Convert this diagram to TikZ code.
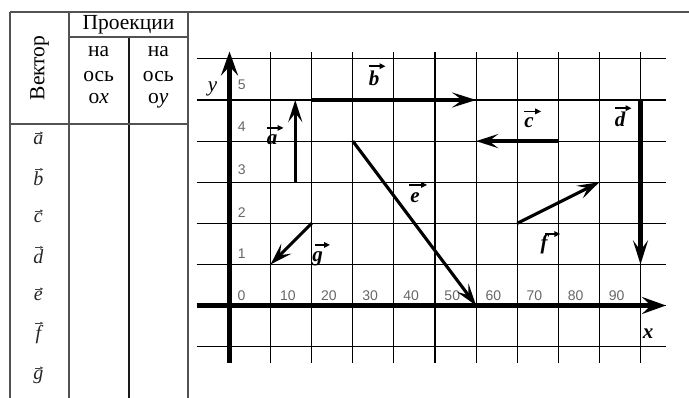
\documentclass[tikz,border=0pt]{standalone}
\usepackage{fontspec}
\setmainfont{Liberation Serif}
\newfontfamily\seriffont{Liberation Serif}
\newfontfamily\numfont{Liberation Sans}
\usetikzlibrary{arrows.meta}
\begin{document}
\begin{tikzpicture}[x=1pt,y=-1pt,
  tline/.style={draw=black!68,line width=2pt},
  gridl/.style={line width=1.1pt},
  axisl/.style={line width=4.5pt,-{Stealth[length=24pt,width=17pt,inset=9pt]}},
  vecthin/.style={line width=3.1pt,-{Stealth[length=22pt,width=14pt,inset=9pt]}},
  vecthick/.style={line width=4.8pt,-{Stealth[length=24pt,width=15pt,inset=10pt]}},
  num/.style={font=\numfont\fontsize{14}{14}\selectfont,text=black!60,inner sep=0pt},
  hdr/.style={font=\seriffont\fontsize{21.5}{21.5}\selectfont,inner sep=0pt},
  hdrl/.style={font=\seriffont\fontsize{21.5}{21.5}\selectfont,inner sep=0pt,anchor=base},
  glab/.style={font=\seriffont\fontsize{21}{21}\selectfont\bfseries\itshape,inner sep=0pt,anchor=base},
  larr/.style={line width=1.5pt,-{Triangle[length=6pt,width=5.5pt]}},
  tlab/.style={font=\seriffont\fontsize{20}{20}\selectfont\itshape,text=black!85,inner sep=0pt,anchor=base},
  sarr/.style={line width=0.6pt,draw=black!75,-{Triangle[length=3pt,width=2.6pt]}}
]
\useasboundingbox (0,0) rectangle (689,398);
% ---------- table ----------
\coordinate (t1) at (10,11.7);
\coordinate (t2) at (689,11.7);
\draw[tline] (t1) -- (t2);
\draw[tline] (10,11.7) -- (10,398);
\draw[tline] (69,11.7) -- (69,398);
\draw[tline,draw=black!90] (128.5,37.3) -- (128.5,398);
\draw[tline] (188.3,11.7) -- (188.3,398);
\draw[tline] (69,37.3) -- (188.3,37.3);
\draw[tline] (10,124) -- (188.3,124);
\node[hdr,rotate=90] (vek) at (39.5,68) {Вектор};
\node[hdr] (proj) at (128.5,24.5) {Проекции};
\node[hdrl] (h11) at (98.7,56.7) {на};
\node[hdrl] (h12) at (98.7,81.2) {ось};
\node[hdrl] (h13) at (98.7,103.5) {о\textit{x}};
\node[hdrl] (h21) at (158.3,56.7) {на};
\node[hdrl] (h22) at (158.3,81.2) {ось};
\node[hdrl] (h23) at (158.3,103.5) {о\textit{y}};
\foreach \n/\l/\yy in {ta/a/145,tb/b/186,tc/c/223,td/d/264,te/e/301,tf/f/340,tg/g/380}{
  \node[tlab] (\n) at (38.3,\yy) {\l};
  \draw[sarr] ([xshift=-3pt,yshift=2.5pt]\n.north) -- ([xshift=5pt,yshift=2.5pt]\n.north);
}
% ---------- grid ----------
\begin{scope}[shift={(229.5,305.5)},x=41.1pt,y=41.1pt]
  \foreach \j in {-1,...,6}{
    \draw[gridl] (-0.8,\j) -- (10.62,\j);
  }
  \foreach \i in {1,...,10}{
    \draw[gridl] (\i,-1.39) -- (\i,6.17);
  }
  \coordinate (xs) at (-0.8,0);
  \coordinate (xe) at (10.62,0);
  \coordinate (ys) at (0,-1.39);
  \coordinate (ye) at (0,6.18);
  \draw[axisl] (xs) -- (xe);
  \draw[axisl] (ys) -- (ye);
  % numbers
  \node[num] (n0) at (0.29,0.25) {0};
  \foreach \k in {1,...,9}{
    \node[num] (nx\k) at (\k+0.42,0.25) {\k0};
  }
  \foreach \k/\jj in {1/1.25,2/2.27,3/3.30,4/4.35,5/5.37}{
    \node[num] (ny\k) at (0.3,\jj) {\k};
  }
  % vectors
  \coordinate (a1) at (1.6,3);  \coordinate (a2) at (1.6,5);
  \coordinate (b1) at (2,5);    \coordinate (b2) at (6,5);
  \coordinate (c1) at (8,4);    \coordinate (c2) at (6,4);
  \coordinate (d1) at (10,5);   \coordinate (d2) at (10,1);
  \coordinate (e1) at (3,4);    \coordinate (e2) at (6,0);
  \coordinate (f1) at (7,2);    \coordinate (f2) at (9,3);
  \coordinate (g1) at (2,2);    \coordinate (g2) at (1,1);
  \draw[vecthin] (a1) -- (a2);
  \draw[vecthick] (b1) -- (b2);
  \draw[vecthin,line width=4pt] (c1) -- (c2);
  \draw[vecthick] (d1) -- (d2);
  \draw[vecthin] (e1) -- (e2);
  \draw[vecthin] (f1) -- (f2);
  \draw[vecthin] (g1) -- (g2);
\end{scope}
% ---------- labels ----------
\node[glab,font=\seriffont\fontsize{21}{21}\selectfont\itshape] (ly) at (212.5,92) {y};
\node[glab] (lx) at (648,338.3) {x};
\node[glab] (la) at (272,145) {a};
\node[glab] (lb) at (374,86) {b};
\node[glab] (lc) at (529,127.5) {c};
\node[glab] (ld) at (620,127) {d};
\node[glab] (le) at (415,203) {e};
\node[glab] (lf) at (544,250) {f};
\node[glab] (lg) at (317.5,262) {g};
\draw[larr] ([xshift=0pt,yshift=7pt]la.north west) -- ([xshift=17pt,yshift=7pt]la.north west);
\draw[larr] ([xshift=0pt,yshift=5pt]lb.north west) -- ([xshift=17pt,yshift=5pt]lb.north west);
\draw[larr] ([xshift=0pt,yshift=6pt]lc.north west) -- ([xshift=17pt,yshift=6pt]lc.north west);
\draw[larr] ([xshift=0pt,yshift=4pt]ld.north west) -- ([xshift=17pt,yshift=4pt]ld.north west);
\draw[larr] ([xshift=-1pt,yshift=8pt]le.north west) -- ([xshift=17pt,yshift=8pt]le.north west);
\draw[larr] ([xshift=5pt,yshift=1pt]lf.north west) -- ([xshift=20pt,yshift=1pt]lf.north west);
\draw[larr] ([xshift=3pt,yshift=7pt]lg.north west) -- ([xshift=18pt,yshift=7pt]lg.north west);
\end{tikzpicture}
\end{document}
